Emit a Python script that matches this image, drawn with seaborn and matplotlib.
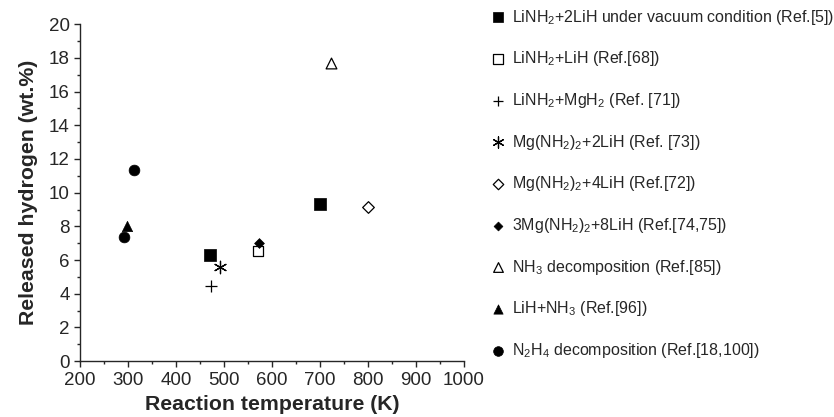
import matplotlib
matplotlib.use("Agg")
import matplotlib.pyplot as plt
import seaborn as sns
import pandas as pd

sns.set_style("ticks")
plt.rcParams["font.family"] = ["Liberation Sans", "DejaVu Sans"]
plt.rcParams["mathtext.fontset"] = "custom"
plt.rcParams["mathtext.rm"] = "Liberation Sans"
plt.rcParams["mathtext.default"] = "regular"

# data
labels = [
    "LiNH$_2$+2LiH under vacuum condition (Ref.[5])",
    "LiNH$_2$+LiH (Ref.[68])",
    "LiNH$_2$+MgH$_2$ (Ref. [71])",
    "Mg(NH$_2$)$_2$+2LiH (Ref. [73])",
    "Mg(NH$_2$)$_2$+4LiH (Ref.[72])",
    "3Mg(NH$_2$)$_2$+8LiH (Ref.[74,75])",
    "NH$_3$ decomposition (Ref.[85])",
    "LiH+NH$_3$ (Ref.[96])",
    "N$_2$H$_4$ decomposition (Ref.[18,100])",
]
temperature = [
    [471, 700],
    [572],
    [472],
    [492],
    [801],
    [573],
    [724],
    [298],
    [292, 313],
]
hydrogen = [
    [6.3, 9.35],
    [6.55],
    [4.45],
    [5.6],
    [9.15],
    [7.0],
    [17.7],
    [8.0],
    [7.35, 11.35],
]

# marker, size, filled
styles = [
    ("s", 75, True),
    ("s", 55, False),
    ("+", 70, None),
    ((6, 2, 0), 80, None),
    ("D", 35, False),
    ("D", 25, True),
    ("^", 60, False),
    ("^", 55, True),
    ("o", 60, True),
]

fig = plt.figure(figsize=(8.34, 4.17), dpi=100)
ax = fig.add_axes([0.096, 0.134, 0.46, 0.808])

for lab, xs, ys, (m, s, filled) in zip(labels, temperature, hydrogen, styles):
    df = pd.DataFrame({"T": xs, "H": ys})
    if filled is None:
        sns.scatterplot(data=df, x="T", y="H", marker=m, s=s, color="black",
                        linewidth=0.9, label=lab, ax=ax)
    elif filled:
        sns.scatterplot(data=df, x="T", y="H", marker=m, s=s, color="black",
                        edgecolor="black", linewidth=0.5, label=lab, ax=ax)
    else:
        sns.scatterplot(data=df, x="T", y="H", marker=m, s=s, facecolor="white",
                        edgecolor="black", linewidth=0.9, label=lab, ax=ax)

ax.set_xlim(200, 1000)
ax.set_ylim(0, 20)
ax.set_xticks(range(200, 1001, 100))
ax.set_yticks(range(0, 21, 2))
ax.set_xticks(range(250, 1000, 100), minor=True)
ax.set_yticks(range(1, 20, 2), minor=True)
ax.tick_params(which="major", length=4, width=1, labelsize=13.5, direction="out")
ax.tick_params(which="minor", length=2, width=1, direction="out")
for sp in ["left", "bottom"]:
    ax.spines[sp].set_linewidth(1.0)
sns.despine(ax=ax)

ax.set_xlabel("Reaction temperature (K)", fontsize=15.3, fontweight="bold", labelpad=5)
ax.set_ylabel("Released hydrogen (wt.%)", fontsize=15.3, fontweight="bold", labelpad=8)

ax.legend(loc="upper left", bbox_to_anchor=(0.589, 0.982), bbox_transform=fig.transFigure,
          frameon=False, fontsize=11.5, labelspacing=1.42, handlelength=0.8,
          handletextpad=0.5, borderaxespad=0, borderpad=0, markerscale=0.9)

fig.savefig("out.png", dpi=100)
